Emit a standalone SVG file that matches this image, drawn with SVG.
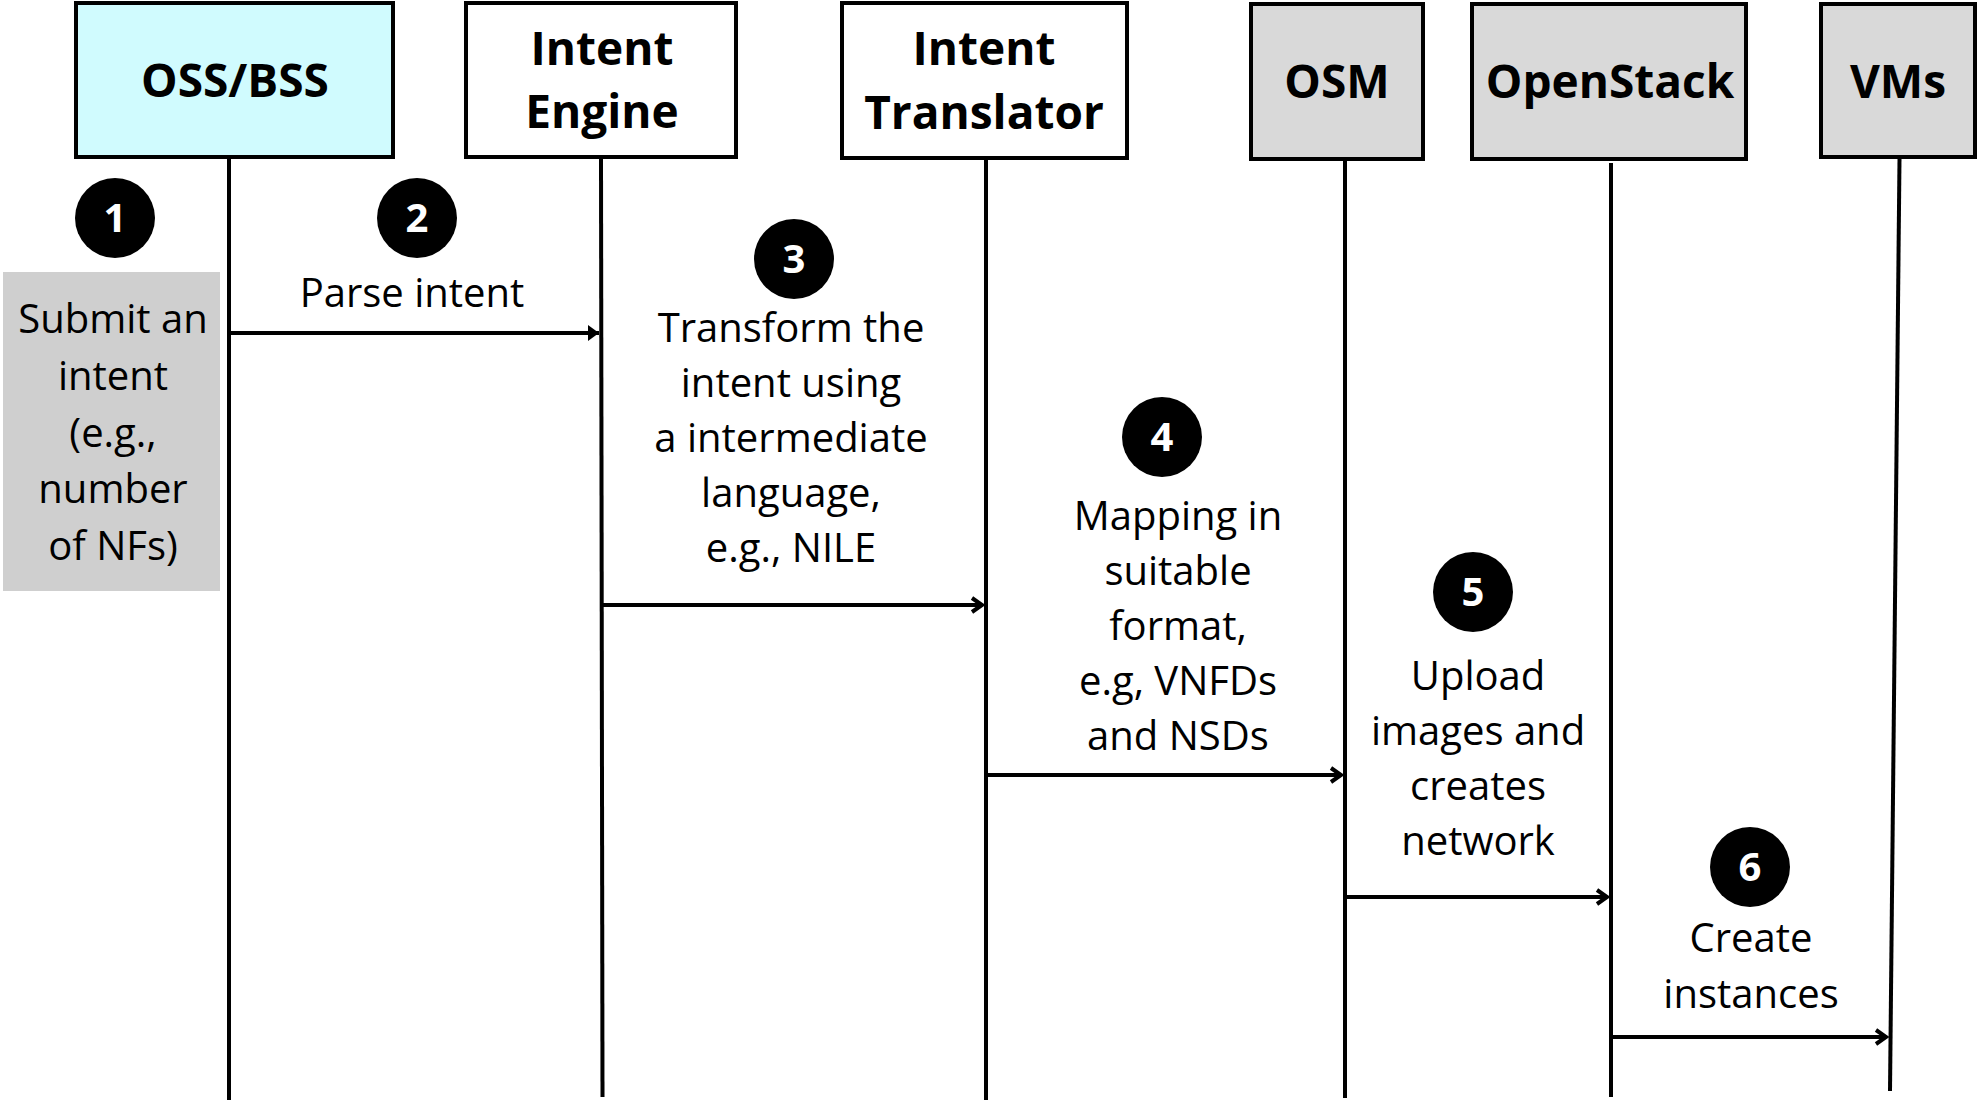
<svg xmlns="http://www.w3.org/2000/svg" width="1979" height="1101" viewBox="0 0 1979 1101">
<style>
.box{stroke:#000;stroke-width:4}
.white{fill:#fff}
.cyan{fill:#d0fbfe}
.gray{fill:#d9d9d9}
.hd{font-family:"Open Sans","Liberation Sans",sans-serif;font-weight:700;font-size:46px;fill:#000;text-anchor:middle}
.lb{font-family:"Open Sans","Liberation Sans",sans-serif;font-weight:400;font-size:40px;fill:#000;text-anchor:middle}
.num{font-family:"Open Sans","Liberation Sans",sans-serif;font-weight:700;font-size:40px;fill:#fff;text-anchor:middle}
.life{stroke:#000;stroke-width:4;fill:none}
.msg{stroke:#000;stroke-width:4;fill:none;marker-end:url(#arr)}
.msgf{stroke:#000;stroke-width:4;fill:none;marker-end:url(#arrf)}
</style>
<defs>
<marker id="arr" markerUnits="userSpaceOnUse" markerWidth="16" markerHeight="20" refX="12" refY="9" orient="auto" viewBox="0 0 16 20">
<path d="M2,2 L12,9 L2,16" fill="none" stroke="#000" stroke-width="4"/>
</marker>
<marker id="arrf" markerUnits="userSpaceOnUse" markerWidth="16" markerHeight="20" refX="12" refY="9" orient="auto" viewBox="0 0 16 20">
<path d="M1,1 L12,9 L1,17 z" fill="#000"/>
</marker>
</defs>
<rect x="0" y="0" width="1979" height="1101" fill="#fff"/>

<g id="oss-bss">
<rect class="box cyan" x="76" y="3" width="317" height="154"/>
<text class="hd" x="235" y="97">OSS/BSS</text>
</g>
<g id="intent-engine">
<rect class="box white" x="466" y="3" width="270" height="154"/>
<text class="hd" x="602" y="65">Intent</text>
<text class="hd" x="602" y="128">Engine</text>
</g>
<g id="intent-translator">
<rect class="box white" x="842" y="3" width="285" height="155"/>
<text class="hd" x="984" y="65">Intent</text>
<text class="hd" x="984" y="129">Translator</text>
</g>
<g id="osm">
<rect class="box gray" x="1251" y="4" width="172" height="155"/>
<text class="hd" x="1337" y="98">OSM</text>
</g>
<g id="openstack">
<rect class="box gray" x="1472" y="4" width="274" height="155"/>
<text class="hd" x="1610" y="98">OpenStack</text>
</g>
<g id="vms">
<rect class="box gray" x="1821" y="4" width="154" height="153"/>
<text class="hd" x="1898" y="98">VMs</text>
</g>

<g id="step1">
<circle cx="115" cy="218" r="40" fill="#000"/>
<text class="num" x="115" y="232">1</text>
<rect x="3" y="272" width="217" height="319" fill="#cfcfcf"/>
<text class="lb" x="113" y="333">Submit an</text>
<text class="lb" x="113" y="390">intent</text>
<text class="lb" x="113" y="447">(e.g.,</text>
<text class="lb" x="113" y="503">number</text>
<text class="lb" x="113" y="560">of NFs)</text>
</g>
<g id="step2">
<circle cx="417" cy="218" r="40" fill="#000"/>
<text class="num" x="417" y="232">2</text>
<text class="lb" x="412" y="307">Parse intent</text>
</g>
<g id="step3">
<circle cx="794" cy="259" r="40" fill="#000"/>
<text class="num" x="794" y="273">3</text>
<text class="lb" x="791" y="342">Transform the</text>
<text class="lb" x="791" y="397">intent using</text>
<text class="lb" x="791" y="452">a intermediate</text>
<text class="lb" x="791" y="507">language,</text>
<text class="lb" x="791" y="562">e.g., NILE</text>
</g>
<g id="step4">
<circle cx="1162" cy="437" r="40" fill="#000"/>
<text class="num" x="1162" y="451">4</text>
<text class="lb" x="1178" y="530">Mapping in</text>
<text class="lb" x="1178" y="585">suitable</text>
<text class="lb" x="1178" y="640">format,</text>
<text class="lb" x="1178" y="695">e.g, VNFDs</text>
<text class="lb" x="1178" y="750">and NSDs</text>
</g>
<g id="step5">
<circle cx="1473" cy="592" r="40" fill="#000"/>
<text class="num" x="1473" y="606">5</text>
<text class="lb" x="1478" y="690">Upload</text>
<text class="lb" x="1478" y="745">images and</text>
<text class="lb" x="1478" y="800">creates</text>
<text class="lb" x="1478" y="855">network</text>
</g>
<g id="step6">
<circle cx="1750" cy="867" r="40" fill="#000"/>
<text class="num" x="1750" y="881">6</text>
<text class="lb" x="1751" y="952">Create</text>
<text class="lb" x="1751" y="1008">instances</text>
</g>

<g id="connectors">
<line class="life" x1="229" y1="159" x2="229" y2="1100"/>
<line class="life" x1="601" y1="159" x2="602.5" y2="1097"/>
<line class="life" x1="986" y1="160" x2="986" y2="1100"/>
<line class="life" x1="1345" y1="161" x2="1345" y2="1098"/>
<line class="life" x1="1611" y1="163" x2="1611" y2="1097"/>
<line class="life" x1="1899.5" y1="159" x2="1890" y2="1091"/>
<line class="msgf" x1="231" y1="333" x2="599" y2="333"/>
<line class="msg" x1="603" y1="605" x2="982" y2="605"/>
<line class="msg" x1="987" y1="775" x2="1341" y2="775"/>
<line class="msg" x1="1346" y1="897" x2="1607" y2="897"/>
<line class="msg" x1="1612" y1="1037" x2="1886" y2="1037"/>
</g>
</svg>
